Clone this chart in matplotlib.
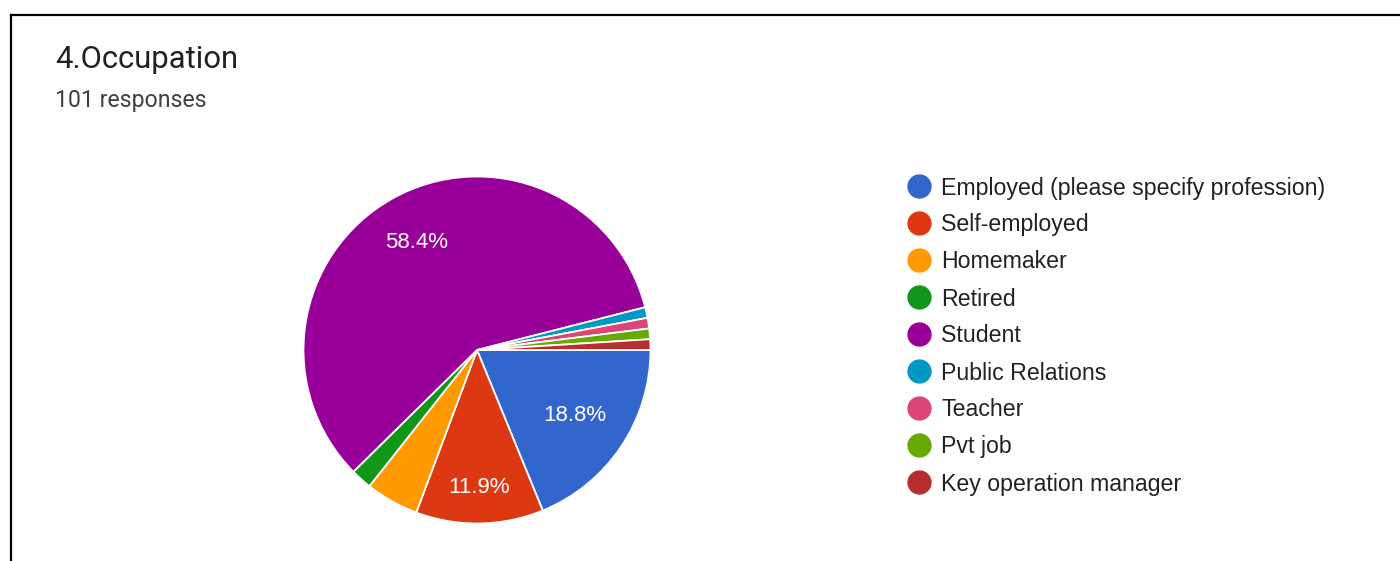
import numpy as np
import matplotlib
matplotlib.use("Agg")
import matplotlib.pyplot as plt
from matplotlib.lines import Line2D

plt.rcParams['font.family'] = ['Roboto', 'DejaVu Sans']

# Survey data: 4. Occupation (101 responses)
categories = ["Employed (please specify profession)", "Self-employed", "Homemaker",
              "Retired", "Student", "Public Relations", "Teacher", "Pvt job",
              "Key operation manager"]
counts = [19, 12, 5, 2, 59, 1, 1, 1, 1]
colors = ["#3366CC", "#DC3912", "#FF9900", "#109618", "#990099",
          "#0099C6", "#DD4477", "#66AA00", "#B82E2E"]
title = "4.Occupation"
subtitle = "101 responses"

W, H = 1400, 561
fig = plt.figure(figsize=(W / 100, H / 100), dpi=100)
fig.patch.set_facecolor("white")

# Frame lines along the top and left edge
fig.add_artist(Line2D([11 / W, 1.0], [1 - 14.5 / H, 1 - 14.5 / H],
                      color="black", lw=1.6, transform=fig.transFigure))
fig.add_artist(Line2D([11 / W, 11 / W], [1 - 14.5 / H, 0.0],
                      color="black", lw=1.6, transform=fig.transFigure))

fig.text(55 / W, 1 - 60 / H, title, fontsize=22.3, color="#202124",
         ha="left", va="center")
fig.text(55 / W, 1 - 100 / H, subtitle, fontsize=16.6, color="#3c4043",
         ha="left", va="center")

# Pie axes: centre (477, 350) px, radius ~173.5 px
cx, cy, r = 477, 350, 173.5
ax = fig.add_axes([(cx - r) / W, (H - cy - r) / H, 2 * r / W, 2 * r / H])
wedges, _ = ax.pie(counts, colors=colors, startangle=0, counterclock=False,
                   radius=1.0,
                   wedgeprops=dict(edgecolor="white", linewidth=1.3))
ax.set_xlim(-1, 1)
ax.set_ylim(-1, 1)
ax.set_aspect("equal")
ax.axis("off")

sans = ['Liberation Sans', 'DejaVu Sans']
total = sum(counts)
label_dist = {0: 0.68, 1: 0.79, 4: 0.71}
for i, w in enumerate(wedges):
    pct = counts[i] / total * 100
    if pct < 10:
        continue
    mid = np.deg2rad((w.theta1 + w.theta2) / 2)
    d = label_dist.get(i, 0.7)
    ax.text(d * np.cos(mid), d * np.sin(mid), f"{pct:.1f}%",
            ha="center", va="center", fontsize=16, color="white", family=sans)

# Legend with circular markers
lx_marker, lx_text = 919, 941
y0, dy = 186, 37
for i, (lab, col) in enumerate(zip(categories, colors)):
    y = 1 - (y0 + i * dy) / H
    fig.add_artist(Line2D([lx_marker / W], [y], marker="o", markersize=16.5,
                          markerfacecolor=col, markeredgecolor=col,
                          linestyle="none", transform=fig.transFigure))
    fig.text(lx_text / W, y - 2 / H, lab, fontsize=16.7, color="#222222",
             ha="left", va="center", family=sans)

fig.savefig("out.png", dpi=100, facecolor="white")
